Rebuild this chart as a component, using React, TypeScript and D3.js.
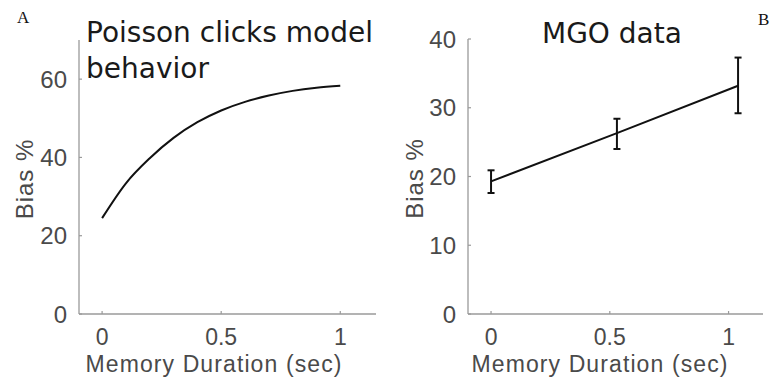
import React from "react";
import * as d3 from "d3";

// Panel A: Poisson clicks model behavior
const modelDurations = [0, 0.1, 0.2, 0.3, 0.4, 0.5, 0.6, 0.7, 0.8, 0.9, 1.0];
const modelBias = [24.5, 33.4, 39.8, 45.0, 49.0, 52.0, 54.2, 55.8, 57.0, 57.8, 58.3];
const aXTicks = [0, 0.5, 1];
const aYTicks = [0, 20, 40, 60];

// Panel B: MGO data
const mgoDurations = [0, 0.53, 1.04];
const mgoBias = [19.3, 26.3, 33.2];
const mgoLow = [17.6, 24.0, 29.2];
const mgoHigh = [20.9, 28.4, 37.3];
const bXTicks = [0, 0.5, 1];
const bYTicks = [0, 10, 20, 30, 40];

const AXIS = "#9a9a9a";
const LABEL = "#4a4a4a";
const TICKFONT = "'Liberation Sans', Arial, Helvetica, sans-serif";
const TITLEFONT = "'DejaVu Sans', sans-serif";

type PanelProps = {
  left: number;
  right: number;
  top: number;
  bottom: number;
  xDomain: [number, number];
  yDomain: [number, number];
  xTicks: number[];
  yTicks: number[];
  yLabelX: number;
  xLabelX: number;
  children: (x: d3.ScaleLinear<number, number>, y: d3.ScaleLinear<number, number>) => React.ReactNode;
};

function Panel(p: PanelProps) {
  const x = d3.scaleLinear().domain(p.xDomain).range([p.left, p.right]);
  const y = d3.scaleLinear().domain(p.yDomain).range([p.bottom, p.top]);
  const yMid = (p.top + p.bottom) / 2 + 2;
  return (
    <g>
      <line x1={p.left} x2={p.right} y1={p.bottom} y2={p.bottom} stroke={AXIS} strokeWidth={1.3} />
      <line x1={p.left} x2={p.left} y1={p.top} y2={p.bottom} stroke={AXIS} strokeWidth={1.3} />
      {p.xTicks.map((t) => (
        <g key={"x" + t}>
          <line x1={x(t)} x2={x(t)} y1={p.bottom} y2={p.bottom - 3} stroke={AXIS} strokeWidth={1.2} />
          <text x={x(t)} y={p.bottom + 31} textAnchor="middle" fontFamily={TICKFONT} fontSize={23} fill={LABEL}>
            {t}
          </text>
        </g>
      ))}
      {p.yTicks.map((t) => (
        <g key={"y" + t}>
          <line x1={p.left} x2={p.left + 3} y1={y(t)} y2={y(t)} stroke={AXIS} strokeWidth={1.2} />
          <text x={p.left - 12} y={y(t) + 8.5} textAnchor="end" fontFamily={TICKFONT} fontSize={24} fill={LABEL}>
            {t}
          </text>
        </g>
      ))}
      <text x={p.xLabelX} y={371.5} textAnchor="middle" fontFamily={TICKFONT} fontSize={23} letterSpacing={1.1} fill={LABEL}>
        Memory Duration (sec)
      </text>
      <text
        transform={`translate(${p.yLabelX},${yMid}) rotate(-90)`}
        textAnchor="middle"
        fontFamily={TICKFONT}
        fontSize={24}
        letterSpacing={1}
        fill={LABEL}
      >
        Bias %
      </text>
      {p.children(x, y)}
    </g>
  );
}

export default function App() {
  return (
    <svg width={783} height={388} style={{ position: "absolute", left: 0, top: 0, background: "#fff" }}>
      <text x={17} y={23} fontFamily="'Liberation Serif', 'Times New Roman', serif" fontSize={17} fill="#111">
        A
      </text>
      <text x={758} y={25} fontFamily="'Liberation Serif', 'Times New Roman', serif" fontSize={17} fill="#111">
        B
      </text>
      <Panel
        left={79}
        right={376}
        top={40}
        bottom={314}
        xDomain={[-0.097, 1.15]}
        yDomain={[0, 70]}
        xTicks={aXTicks}
        yTicks={aYTicks}
        yLabelX={33}
        xLabelX={214}
      >
        {(x, y) => {
          const line = d3
            .line<number>()
            .x((_, i) => x(modelDurations[i]))
            .y((d) => y(d))
            .curve(d3.curveMonotoneX);
          return <path d={line(modelBias) || ""} fill="none" stroke="#111" strokeWidth={2} />;
        }}
      </Panel>
      <Panel
        left={468}
        right={763}
        top={39}
        bottom={314}
        xDomain={[-0.097, 1.145]}
        yDomain={[0, 40]}
        xTicks={bXTicks}
        yTicks={bYTicks}
        yLabelX={423}
        xLabelX={600}
      >
        {(x, y) => {
          const line = d3
            .line<number>()
            .x((_, i) => x(mgoDurations[i]))
            .y((d) => y(d));
          return (
            <g>
              <path d={line(mgoBias) || ""} fill="none" stroke="#111" strokeWidth={2} />
              {mgoDurations.map((d, i) => (
                <g key={i} stroke="#111" strokeWidth={2}>
                  <line x1={x(d)} x2={x(d)} y1={y(mgoLow[i])} y2={y(mgoHigh[i])} />
                  <line x1={x(d) - 3.5} x2={x(d) + 3.5} y1={y(mgoLow[i])} y2={y(mgoLow[i])} />
                  <line x1={x(d) - 3.5} x2={x(d) + 3.5} y1={y(mgoHigh[i])} y2={y(mgoHigh[i])} />
                </g>
              ))}
            </g>
          );
        }}
      </Panel>
      <text fontFamily={TITLEFONT} fontSize={28} fill="#1a1a1a">
        <tspan x={86} y={42}>Poisson clicks model</tspan>
        <tspan x={86} y={78}>behavior</tspan>
      </text>
      <text x={542} y={43} fontFamily={TITLEFONT} fontSize={28} fill="#1a1a1a">
        MGO data
      </text>
    </svg>
  );
}
